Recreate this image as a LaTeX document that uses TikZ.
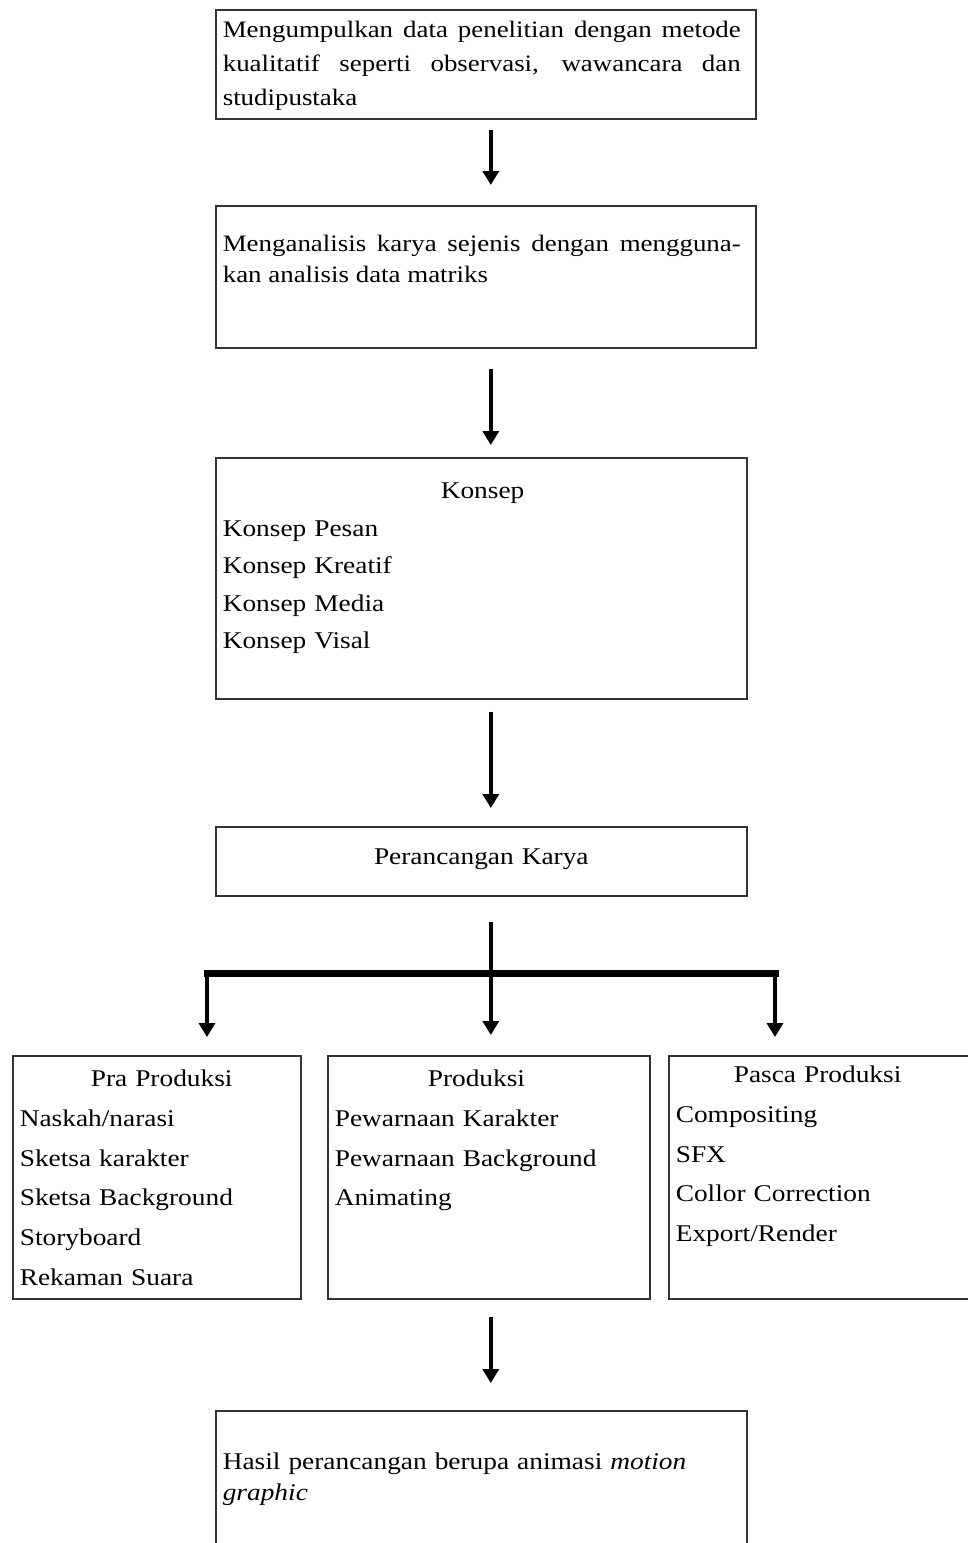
\documentclass[tikz,border=0pt]{standalone}
\usepackage{fontspec}
\setmainfont[FakeStretch=1.14]{Liberation Serif}
\usetikzlibrary{arrows.meta}

\begin{document}
\begin{tikzpicture}
[x=1pt, y=1pt, every node/.style={inner sep=0pt},
 stage/.style={draw=black!80, line width=1.6pt, anchor=north west, inner xsep=7pt, inner ysep=0pt, align=left, font=\fontsize{24pt}{34pt}\selectfont},
 flow/.style={line width=3.5pt, -{Triangle[width=16pt, length=14pt]}},
 bar/.style={line width=7pt}]
\useasboundingbox (0, 0) rectangle (968, -1543);
\node (collect) [stage, align=justify, text width=526pt, text height=28pt, text depth=81pt, font=\fontsize{23.6pt}{34pt}\selectfont] at (215, -9) {\parbox[t]{518pt}{Mengumpulkan data penelitian dengan metode\linebreak kualitatif seperti observasi, wawancara dan\linebreak studipustaka}};
\node (analyse) [stage, align=justify, text width=526pt, text height=46pt, text depth=96pt, font=\fontsize{23.6pt}{31pt}\selectfont] at (215, -205) {\parbox[t]{518pt}{Menganalisis karya sejenis dengan mengguna-\linebreak kan analisis data matriks}};
\node (concept) [stage, text width=517pt, text height=41pt, text depth=200pt, font=\fontsize{24pt}{37.5pt}\selectfont] at (215, -457) {\hspace*{218pt}Konsep\\ Konsep Pesan\\ Konsep Kreatif\\ Konsep Media\\ Konsep Visal};
\node (design) [stage, text width=517pt, align=center, text height=38pt, text depth=31pt] at (215, -826) {Perancangan Karya};
\node (pre) [stage, text width=274pt, text height=31pt, text depth=212pt, font=\fontsize{24pt}{39.7pt}\selectfont] at (12, -1055) {\hspace*{71pt}Pra Produksi\\ Naskah/narasi\\ Sketsa karakter\\ Sketsa Background\\ Storyboard\\ Rekaman Suara};
\node (prod) [stage, text width=308pt, text height=31pt, text depth=212pt, font=\fontsize{24pt}{39.7pt}\selectfont] at (327, -1055) {\hspace*{93pt}Produksi\\ Pewarnaan Karakter\\ Pewarnaan Background\\ Animating};
\node (post) [stage, text width=316pt, text height=27pt, text depth=216pt, font=\fontsize{24pt}{39.7pt}\selectfont] at (668, -1055) {\hspace*{58pt}Pasca Produksi\\ Compositing\\ SFX\\ Collor Correction\\ Export/Render};
\node (result) [stage, text width=517pt, text height=59pt, text depth=141pt, font=\fontsize{24pt}{31pt}\selectfont] at (215, -1410) {Hasil perancangan berupa animasi \textit{motion}\\ \textit{graphic}};
\coordinate (barL) at (207, -973);
\coordinate (barR) at (775, -973);
\draw [flow] ([xshift=5pt, yshift=-10pt]collect.south) -- ([xshift=5pt, yshift=20pt]analyse.north);
\draw [flow] ([xshift=5pt, yshift=-20pt]analyse.south) -- ([xshift=9.5pt, yshift=12pt]concept.north);
\draw [flow] ([xshift=9.5pt, yshift=-12pt]concept.south) -- ([xshift=9.5pt, yshift=18pt]design.north);
\draw [bar] ([xshift=-3.5pt]barL) -- ([xshift=3.5pt]barR);
\draw [flow] ([xshift=9.5pt, yshift=-25pt]design.south) -- ([xshift=2pt, yshift=20pt]prod.north);
\draw [flow] (barL) -- ([yshift=18pt]barL |- pre.north);
\draw [flow] (barR) -- ([yshift=18pt]barR |- post.north);
\draw [flow] ([xshift=2pt, yshift=-17pt]prod.south) -- ([xshift=9.5pt, yshift=27pt]result.north);
\end{tikzpicture}
\end{document}
